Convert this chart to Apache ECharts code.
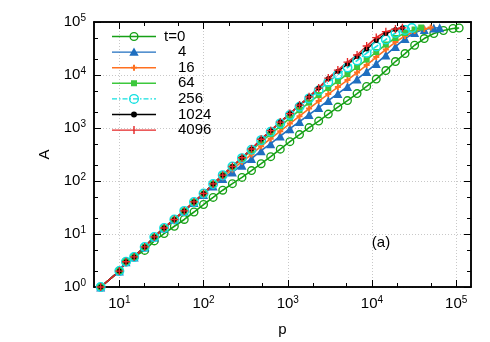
<!DOCTYPE html>
<html>
<head>
<meta charset="utf-8">
<script src="https://cdn.jsdelivr.net/npm/echarts@6/dist/echarts.min.js"></script>
<style>
html, body { margin: 0; padding: 0; background: #fff; }
#chart { width: 490px; height: 342px; }
</style>
</head>
<body>
<div id="chart"></div>
<script>
// p values where the points sit (shared by all curves), last point of each curve is in pEnd
var pGrid = [6, 10, 12, 15, 20, 26, 34, 45, 59, 77, 100, 130, 169, 220, 286, 371, 483, 627, 815,
    1060, 1379, 1792, 2330, 3029, 3937, 5119, 6654, 8650, 11245, 14618, 19004, 24705, 32117,
    41752, 54277, 70560, 91728];
var names = ['t=0', '4', '16', '64', '256', '1024', '4096'];
var pEnd = [108500, 63700, 49800, 38400, 29760, 23000, 23000];

// A values
var aT0 = [1, 2, 3, 3.7, 4.9, 7.4, 10.2, 14, 18.8, 26, 36, 49, 67, 89, 117, 157, 212, 288, 399,
    553, 750, 1017, 1349, 1829, 2478, 3290, 4460, 6100, 8380, 12130, 17950, 25420, 36400,
    48760, 60600, 69100, 75400, 77100];
var aT4 = [1, 2, 3, 3.7, 5.7, 8.8, 13, 18.8, 27.3, 39.5, 55.6, 80.5, 111, 148, 199, 265, 374,
    507, 703, 973, 1320, 1791, 2428, 3291, 4460, 6050, 8380, 11610, 16440, 23820, 34440,
    48760, 63370, 72150, 77100, 78000];
var aT16 = [1, 2, 3, 3.7, 5.7, 8.8, 13, 18.8, 27.3, 40.3, 56.9, 84.1, 118, 165, 232, 316, 455,
    630, 873, 1210, 1675, 2322, 3219, 4365, 5920, 8020, 11120, 15410, 21830, 30260, 41900,
    54350, 67580, 73800, 78700];
var aT64 = [1, 2, 3, 3.7, 5.7, 8.8, 13, 18.8, 27.3, 40.3, 58, 88, 129, 184, 264, 376, 553, 766,
    1086, 1538, 2178, 3017, 4178, 5663, 7686, 10420, 14130, 19580, 27120, 37590, 49890,
    61950, 72150, 78700];
var aT256 = [1, 2, 3, 3.7, 5.7, 8.8, 13, 18.8, 27.3, 40.3, 58, 88, 129, 188, 270, 390, 590, 847,
    1221, 1751, 2513, 3620, 5080, 7360, 10190, 13820, 18750, 25970, 34450, 46700, 61950,
    70600, 77100];
var aT1024 = [1, 2, 3, 3.7, 5.7, 8.8, 13, 18.8, 27.3, 40.3, 58, 88, 129, 188, 275, 401, 614, 892,
    1292, 1870, 2705, 3880, 5670, 8600, 11800, 16100, 22300, 30900, 44700, 60600, 72100, 77700];
var aT4096 = [1, 2, 3, 3.7, 5.7, 8.8, 13, 18.8, 27.3, 40.3, 58, 88, 129, 188, 275, 401, 614, 892,
    1292, 1870, 2705, 3880, 5670, 8750, 12400, 17500, 23800, 35200, 50900, 65600, 73800, 77700];

var xMajor = [10, 100, 1000, 10000, 100000];
var xMinor = [20, 50, 200, 500, 2000, 5000, 20000, 50000];
var yMajor = [1, 10, 100, 1000, 10000, 100000];
var yMinor = [2, 5, 20, 50, 200, 500, 2000, 5000, 20000, 50000];

var font = 'Liberation Sans';
var ring = 'path://M10,0A10,10 0 1,1 -10,0A10,10 0 1,1 10,0Z M7,0A7,7 0 1,0 -7,0A7,7 0 1,0 7,0Z';
var plus = 'path://M-1,-6H1V-1H6V1H1V6H-1V1H-6V-1H-1Z';
var star = 'path://M-2,-6H2V-2H6V2H2V6H-2V2H-6V-2H-2Z';

var allA = [aT0, aT4, aT16, aT64, aT256, aT1024, aT4096];
var colors = ['#16a016', '#1f6fc0', '#ff7020', '#3cc83c', '#12e0e0', '#000000', '#e52626'];
var symbols = [ring, 'triangle', star, 'rect', ring, 'circle', plus];
var sizes = [9, 9, 6, 6, 10, 5, 8];

// legend icons: 44x14 box, line through the middle and the marker in the centre
var box = 'M0,0Z M44,14Z ';
var solid = 'M0,6.3H44V7.7H0Z ';
function dashDot() {
    var pat = [5, 2, 1.5, 2];
    var s = '';
    var x = 0, j = 0;
    while (x < 44) {
        var w = Math.min(pat[j % 4], 44 - x);
        if (j % 2 === 0) {
            s += 'M' + x + ',6.3H' + (x + w) + 'V7.7H' + x + 'Z ';
        }
        x += pat[j % 4];
        j++;
    }
    return s;
}
function circ(r, cw) {
    var f = cw ? '1' : '0';
    return 'M' + (22 + r) + ',7A' + r + ',' + r + ' 0 1,' + f + ' ' + (22 - r) + ',7A' + r + ',' + r +
        ' 0 1,' + f + ' ' + (22 + r) + ',7Z ';
}
var icons = [
    box + solid + circ(4.6, true) + circ(3.2, false),
    box + solid + 'M22,2.5L26.7,10.6L17.3,10.6Z',
    box + solid + 'M21,4H23V6H25V8H23V10H21V8H19V6H21Z',
    box + solid + 'M19,4H25V10H19Z',
    box + dashDot() + circ(5, true) + circ(3.7, false),
    box + solid + circ(3, true),
    box + solid + 'M21.3,3H22.7V6.3H26V7.7H22.7V11H21.3V7.7H18V6.3H21.3Z'
];

function build(k) {
    var a = allA[k];
    var out = [];
    for (var i = 0; i < a.length; i++) {
        var p = i < a.length - 1 ? pGrid[i] : pEnd[k];
        out.push([p, a[i]]);
    }
    return out;
}

var series = [];
var legendData = [];
for (var k = 0; k < names.length; k++) {
    series.push({
        name: names[k],
        type: 'line',
        xAxisIndex: 0,
        yAxisIndex: 0,
        data: build(k),
        symbol: symbols[k],
        symbolSize: sizes[k],
        showAllSymbol: true,
        color: colors[k],
        lineStyle: {
            width: 1.6,
            color: colors[k],
            type: k === 4 ? [6, 2, 1, 2] : 'solid'
        },
        itemStyle: { color: colors[k] }
    });
    legendData.push({ name: names[k], icon: 'path://' + icons[k] });
}

function supLabel(v) {
    return '{b|10}{s|' + Math.round(Math.log10(v)) + '}';
}
var rich = {
    b: { fontSize: 15, fontFamily: font, color: '#000' },
    s: { fontSize: 10, fontFamily: font, color: '#000', padding: [0, 0, 8, 0] }
};

function axis(pos, min, max, ticks, len) {
    return {
        type: 'log',
        logBase: 10,
        position: pos,
        min: min,
        max: max,
        axisLine: { show: true, onZero: false, lineStyle: { color: '#000', width: 1.5 } },
        axisTick: { show: true, inside: true, length: len, customValues: ticks,
            lineStyle: { color: '#000', width: 1 } },
        axisLabel: { show: false },
        splitLine: { show: false },
        minorTick: { show: false },
        minorSplitLine: { show: false }
    };
}

var xMain = axis('bottom', 5, 150000, xMajor, 7);
xMain.axisLabel = { show: true, customValues: xMajor, margin: 8, formatter: supLabel, rich: rich };
xMain.splitLine = { show: true, lineStyle: { color: '#c8c8c8', type: [1, 2], width: 1 } };
xMain.name = 'p';
xMain.nameLocation = 'middle';
xMain.nameGap = 35;
xMain.nameTextStyle = { fontSize: 15, fontFamily: font, color: '#000' };

var yMain = axis('left', 1, 100000, yMajor, 7);
yMain.axisLabel = { show: true, customValues: yMajor, margin: 8, formatter: supLabel, rich: rich };
yMain.splitLine = { show: true, lineStyle: { color: '#c8c8c8', type: [1, 2], width: 1 } };
yMain.name = 'A';
yMain.nameLocation = 'middle';
yMain.nameGap = 30;
yMain.nameTextStyle = { fontSize: 15, fontFamily: font, color: '#000' };

var chart = echarts.init(document.getElementById('chart'));
chart.setOption({
    animation: false,
    backgroundColor: '#fff',
    grid: { left: 94, right: 19, top: 22, bottom: 55, containLabel: false },
    xAxis: [
        xMain,
        axis('bottom', 5, 150000, xMinor, 4),
        axis('top', 5, 150000, xMajor, 7),
        axis('top', 5, 150000, xMinor, 4)
    ],
    yAxis: [
        yMain,
        axis('left', 1, 100000, yMinor, 4),
        axis('right', 1, 100000, yMajor, 7),
        axis('right', 1, 100000, yMinor, 4)
    ],
    legend: {
        data: legendData,
        orient: 'vertical',
        left: 112,
        top: 29,
        padding: 0,
        itemWidth: 44,
        itemHeight: 14,
        itemGap: 0.6,
        itemStyle: { borderWidth: 0 },
        formatter: function (name) {
            return name === 't=0' ? '{a|t=0}' : '{b|' + name + '}';
        },
        textStyle: {
            fontSize: 15, fontFamily: font, color: '#000',
            rich: {
                a: { fontSize: 15, fontFamily: font, color: '#000', padding: [0, 0, 0, 3] },
                b: { fontSize: 15, fontFamily: font, color: '#000', padding: [0, 0, 0, 17] }
            }
        }
    },
    graphic: [{
        type: 'text',
        x: 381,
        y: 243,
        style: { text: '(a)', fontSize: 15, fontFamily: font, fill: '#000',
            align: 'center', verticalAlign: 'middle' }
    }],
    series: series
});
</script>
</body>
</html>
